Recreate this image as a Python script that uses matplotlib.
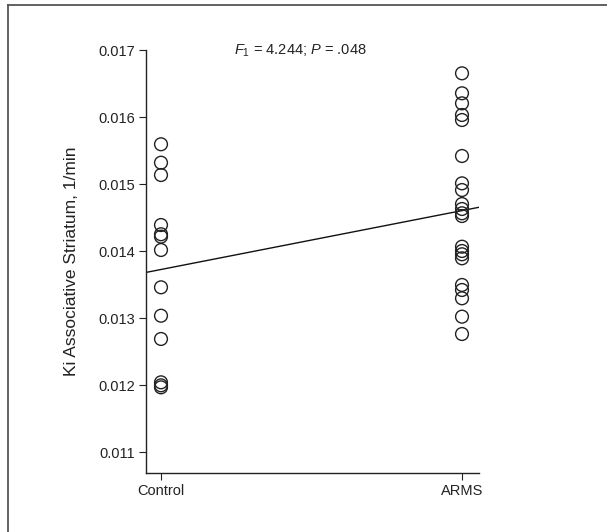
import matplotlib
matplotlib.use("Agg")
import matplotlib.pyplot as plt
from matplotlib.lines import Line2D
import numpy as np

categories = ["Control", "ARMS"]
control_vals = [0.015593, 0.015318, 0.015134, 0.014388, 0.014250, 0.014214,
                0.014015, 0.013458, 0.013034, 0.012687, 0.012040, 0.011995, 0.011965]
arms_vals = [0.016652, 0.016354, 0.016204, 0.016030, 0.015955, 0.015418,
             0.015010, 0.014910, 0.014701, 0.014627, 0.014563, 0.014522,
             0.014064, 0.014000, 0.013951, 0.013891, 0.013493, 0.013418,
             0.013294, 0.013020, 0.012761]
fit_line = [0.013724, 0.014603]  # fitted values at Control, ARMS
yticks = [0.011, 0.012, 0.013, 0.014, 0.015, 0.016, 0.017]

fams = ["Liberation Sans Narrow", "Liberation Sans", "DejaVu Sans"]
plt.rcParams['font.family'] = fams
plt.rcParams['mathtext.fontset'] = 'custom'
plt.rcParams['mathtext.it'] = 'Liberation Sans:italic'
plt.rcParams['mathtext.rm'] = 'Liberation Sans'

fig = plt.figure(figsize=(6.07, 5.32), dpi=100)
ax = fig.add_axes([146/607, 1-473/532, (479-146)/607, (473-50)/532])

xl = (-15/301, 1 + 17/301)
ax.set_xlim(*xl)
ax.set_ylim(0.011 - 21/67*0.001, 0.017)

ax.scatter([0]*len(control_vals), control_vals, s=85, facecolors='none',
           edgecolors='#222222', linewidths=1.0, zorder=3)
ax.scatter([1]*len(arms_vals), arms_vals, s=85, facecolors='none',
           edgecolors='#222222', linewidths=1.0, zorder=3)

slope = fit_line[1] - fit_line[0]
xs = np.array(xl)
ax.plot(xs, fit_line[0] + slope*xs, color='#111111', lw=1.0, zorder=2)

ax.set_xticks([0, 1])
ax.set_xticklabels(categories)
ax.set_yticks(yticks)
ax.set_yticklabels([f"{v:.3f}" for v in yticks])
ax.tick_params(direction='out', length=5, width=0.8, labelsize=10.5,
               colors='#222222', pad=3)
for s in ['top', 'right']:
    ax.spines[s].set_visible(False)
for s in ['left', 'bottom']:
    ax.spines[s].set_linewidth(1.0)
    ax.spines[s].set_color('#222222')

ax.set_ylabel("Ki Associative Striatum, 1/min", fontsize=12.5, color='#222222', labelpad=14)

ax.text(0.462, 0.997, r"$F_1$ = 4.244; $P$ = .048", transform=ax.transAxes,
        ha='center', va='center', fontsize=10.5, color='#222222')

# partial frame (top and left) as in the reference
fig.add_artist(Line2D([8/607, 8/607], [0, 1-5/532], transform=fig.transFigure,
                      color='#555555', lw=1.3))
fig.add_artist(Line2D([8/607, 1], [1-5/532, 1-5/532], transform=fig.transFigure,
                      color='#555555', lw=1.3))

fig.savefig("out.png", dpi=100)
